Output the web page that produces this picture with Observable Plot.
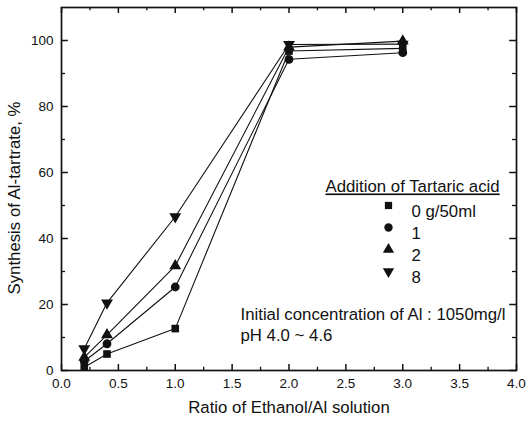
<!DOCTYPE html>
<html>
<head>
<meta charset="utf-8">
<script src="https://cdn.jsdelivr.net/npm/d3@7"></script>
<script src="https://cdn.jsdelivr.net/npm/@observablehq/plot@0.6"></script>
<style>
  html, body { margin: 0; padding: 0; background: #fff; }
  svg { font-family: "Liberation Sans", Arial, sans-serif; }
</style>
</head>
<body>
<div id="chart"></div>
<script>
// ---- data ----
const ratios = [0.2, 0.4, 1.0, 2.0, 3.0];
const seriesNames = ["0 g/50ml", "1", "2", "8"];
const s0 = [1.0, 5.0, 12.7, 96.8, 97.6];   // 0 g/50ml (square)
const s1 = [2.8, 8.1, 25.3, 94.3, 96.3];   // 1 (circle)
const s2 = [4.0, 10.8, 31.7, 98.0, 99.8];  // 2 (triangle up)
const s3 = [6.6, 20.5, 46.6, 98.8, 98.9];  // 8 (triangle down)
const xTicks = [0, 0.5, 1, 1.5, 2, 2.5, 3, 3.5, 4];
const xMinor = [0.25, 0.75, 1.25, 1.75, 2.25, 2.75, 3.25, 3.75];
const yTicks = [0, 20, 40, 60, 80, 100];
const yMinor = [10, 30, 50, 70, 90];
const legendTitle = "Addition of Tartaric acid";
const note1 = "Initial concentration of Al : 1050mg/l";
const note2 = "pH 4.0 ~ 4.6";
const xTitle = "Ratio of Ethanol/Al solution";
const yTitle = "Synthesis of Al-tartrate, %";

const allSeries = [s0, s1, s2, s3];
const symbols = ["square", "circle", "triangle", "triangle"];
const rotations = [0, 0, 0, 180];
const radii = [4.3, 4.4, 4.4, 4.4];

const rows = [];
allSeries.forEach((s, i) => s.forEach((v, j) => rows.push({x: ratios[j], y: v, k: i})));

const ink = "#111";
const xMaj = 1.8, xMin = 1.0;     // tick lengths in y units
const yMaj = 0.06, yMin = 0.035;  // tick lengths in x units
const fs = 16.8;

const marks = [
  Plot.frame({stroke: ink, strokeWidth: 1.7}),
  // inward ticks bottom & top
  Plot.ruleX(xTicks, {x: d => d, y1: 0, y2: xMaj, stroke: ink, strokeWidth: 1.5}),
  Plot.ruleX(xMinor, {x: d => d, y1: 0, y2: xMin, stroke: ink, strokeWidth: 1.3}),
  Plot.ruleX(xTicks, {x: d => d, y1: 110, y2: 110 - xMaj, stroke: ink, strokeWidth: 1.5}),
  Plot.ruleX(xMinor, {x: d => d, y1: 110, y2: 110 - xMin, stroke: ink, strokeWidth: 1.3}),
  // inward ticks left & right
  Plot.ruleY(yTicks, {y: d => d, x1: 0, x2: yMaj, stroke: ink, strokeWidth: 1.5}),
  Plot.ruleY(yMinor, {y: d => d, x1: 0, x2: yMin, stroke: ink, strokeWidth: 1.3}),
  Plot.ruleY(yTicks, {y: d => d, x1: 4, x2: 4 - yMaj, stroke: ink, strokeWidth: 1.5}),
  Plot.ruleY(yMinor, {y: d => d, x1: 4, x2: 4 - yMin, stroke: ink, strokeWidth: 1.3}),
  Plot.axisX(xTicks, {tickSize: 0, tickPadding: 8, tickFormat: d3.format(".1f"), fontSize: 13.5, label: null, color: ink}),
  Plot.axisY(yTicks, {tickSize: 0, tickPadding: 8, tickFormat: d3.format("d"), fontSize: 13.5, label: null, color: ink}),
  Plot.line(rows, {x: "x", y: "y", z: "k", stroke: ink, strokeWidth: 1.1}),
];
allSeries.forEach((s, i) => {
  marks.push(Plot.dot(rows.filter(d => d.k === i), {
    x: "x", y: "y", symbol: symbols[i], rotate: rotations[i], r: radii[i], fill: ink, stroke: "none"
  }));
});
// titles
marks.push(Plot.text([xTitle], {text: d => d, frameAnchor: "bottom", dy: 42, fontSize: fs, fill: ink}));
marks.push(Plot.text([yTitle], {text: d => d, frameAnchor: "left", textAnchor: "middle", dx: -47, dy: 9, rotate: -90, fontSize: fs, fill: ink}));
// in-plot legend
marks.push(Plot.text([legendTitle], {text: d => d, frameAnchor: "top-left", dx: 264, dy: 173, textAnchor: "start", fontSize: fs, fill: ink}));
seriesNames.forEach((name, i) => {
  const dy = 198 + i * 22;
  marks.push(Plot.dot([name], {frameAnchor: "top-left", dx: 327, dy, symbol: symbols[i], rotate: rotations[i], r: radii[i] * 0.95, fill: ink, stroke: "none"}));
  marks.push(Plot.text([name], {text: d => d, frameAnchor: "top-left", dx: 350, dy, textAnchor: "start", fontSize: fs, fill: ink}));
});
marks.push(Plot.text([note1], {text: d => d, frameAnchor: "top-left", dx: 179, dy: 301, textAnchor: "start", fontSize: fs, fill: ink}));
marks.push(Plot.text([note2], {text: d => d, frameAnchor: "top-left", dx: 179, dy: 322, textAnchor: "start", fontSize: fs, fill: ink}));

const chart = Plot.plot({
  width: 528,
  height: 421,
  marginLeft: 61,
  marginRight: 12,
  marginTop: 7,
  marginBottom: 51,
  style: {fontFamily: '"Liberation Sans", Arial, sans-serif', background: "#fff"},
  x: {domain: [0, 4]},
  y: {domain: [0, 110]},
  marks
});
document.getElementById("chart").appendChild(chart);
chart.querySelectorAll("text").forEach(t => {
  if (t.textContent === legendTitle) t.setAttribute("text-decoration", "underline");
});
</script>
</body>
</html>
